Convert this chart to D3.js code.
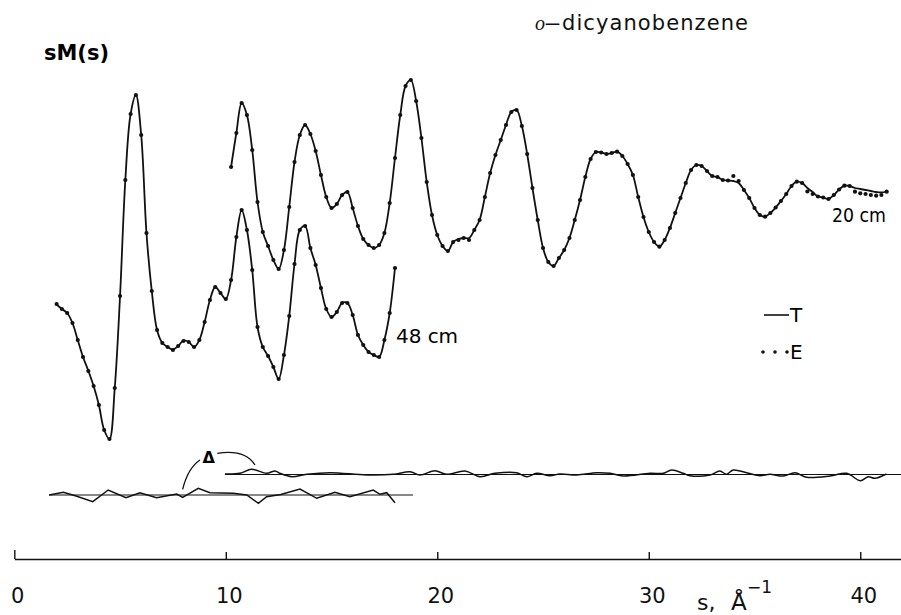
<!DOCTYPE html>
<html><head><meta charset="utf-8">
<script src="https://cdn.jsdelivr.net/npm/d3@7"></script>
<style>body{margin:0;background:#fff}svg{display:block}</style>
</head><body>
<svg id="chart" width="901" height="615"></svg>
<script>
// ---------- data (s in 1/Å, sM(s) in arbitrary vertical units) ----------
const s48 = [2,2.25,2.5,2.75, 3,3.25,3.5,3.75, 4,4.25,4.5,4.75, 5,5.25,5.5,5.75, 6,6.25,6.5,6.75,
  7,7.25,7.5,7.75, 8,8.25,8.5,8.75, 9,9.25,9.5,9.75, 10,10.25,10.5,10.75, 11,11.25,11.5,11.75,
  12,12.25,12.5,12.75, 13,13.25,13.5,13.75, 14,14.25,14.5,14.75, 15,15.25,15.5,15.75,
  16,16.25,16.5,16.75, 17,17.25,17.5,17.75, 18];
const T48 = [29.55,29.1,28.7,27.7, 26.0,24.3,22.93,21.4, 19.5,17.0,16.1,21.2, 30.4,42.0,48.6,50.5,
  46.5,36.7,30.9,27.0, 25.7,25.3,25.05,25.4, 25.95,25.8,25.3,26.0, 27.8,30.0,31.3,30.7,
  30.1,32.0,36.3,39.0, 37.0,33.0,27.3,25.3, 24.4,23.3,22.1,24.5, 28.4,33.6,37.0,37.4,
  35.2,33.5,31.2,29.1, 28.3,28.8,29.7,29.7, 28.5,26.5,25.5,24.8, 24.5,24.3,26.0,28.7, 33.2];
const E48 = [29.6,29.1,28.7,27.7, 26.0,24.3,22.9,21.4, 19.5,17.0,16.1,21.2, 30.4,42.0,48.6,50.5,
  46.5,36.7,30.9,27.0, 25.7,25.3,25.0,25.4, 25.9,25.8,25.3,26.0, 27.8,30.0,31.3,30.7,
  30.1,32.0,36.3,39.0, 37.0,33.0,27.3,25.3, 24.4,23.3,22.1,24.5, 28.4,33.6,37.0,37.4,
  35.2,33.5,31.2,29.1, 28.3,28.8,29.7,29.7, 28.5,26.5,25.5,24.8, 24.5,24.3,26.0,28.7, 33.2];

const s20 = [10.25,10.5,10.75, 11,11.25,11.5,11.75, 12,12.25,12.5,12.75, 13,13.25,13.5,13.75,
  14,14.25,14.5,14.75, 15,15.25,15.5,15.75, 16,16.25,16.5,16.75, 17,17.25,17.5,17.75,
  18,18.25,18.5,18.75, 19,19.25,19.5,19.75, 20,20.25,20.5,20.75, 21,21.25,21.5,21.75,
  22,22.25,22.5,22.75, 23,23.25,23.5,23.75, 24,24.25,24.5,24.75, 25,25.25,25.5,25.75,
  26,26.25,26.5,26.75, 27,27.25,27.5,27.75, 28,28.25,28.5,28.75, 29,29.25,29.5,29.75,
  30,30.25,30.5,30.75, 31,31.25,31.5,31.75, 32,32.25,32.5,32.75, 33,33.25,33.5,33.75,
  34,34.25,34.5,34.75, 35,35.25,35.5,35.75, 36,36.25,36.5,36.75, 37,37.25,37.5,37.75,
  38,38.25,38.5,38.75, 39,39.25,39.5,39.75, 40,40.25,40.5,40.75, 41,41.25];
const T20 = [43.3,46.7,49.7, 48.5,45.0,39.8,36.8, 35.4,34.0,33.1,35.0, 39.3,43.8,46.5,47.5,
  46.6,44.9,42.5,40.3, 39.2,39.6,40.5,40.8, 39.2,37.4,36.1,35.5, 35.2,35.5,36.7,39.7,
  44.2,48.5,51.4,52.0, 49.9,46.2,41.8,38.5, 36.5,35.4,34.9,35.8, 36.1,36.2,36.2,37.0,
  38.0,40.3,42.7,44.5, 46.0,47.5,48.8,49.0, 47.4,44.6,41.2,38.0, 35.2,33.8,33.4,34.2,
  35.0,36.2,38.0,40.0, 42.3,44.1,44.8,44.75, 44.6,44.7,44.83,44.4, 43.6,42.5,40.3,38.3,
  36.8,35.8,35.33,36.0, 37.2,38.7,40.2,41.7, 43.0,43.5,43.4,42.9, 42.4,42.3,42.0,41.95,
  41.9,41.7,41.0,40.2, 39.2,38.5,38.33,38.7, 39.25,39.9,40.6,41.4, 41.83,41.7,41.2,40.8,
  40.35,40.25,40.1,40.5, 41.05,41.43,41.4,41.2, 41.1,41.0,40.9,40.8, 40.75,40.85];
const E20 = [43.3,46.7,49.7, 48.5,45.0,39.8,36.8, 35.4,34.0,33.1,35.0, 39.3,43.8,46.5,47.5,
  46.6,44.9,42.5,40.3, 39.2,39.6,40.5,40.8, 39.2,37.4,36.1,35.5, 35.2,35.5,36.7,39.7,
  44.2,48.5,51.4,52.0, 49.9,46.2,41.8,38.5, 36.5,35.4,34.9,35.8, 36.0,36.2,36.0,37.0,
  38.0,40.3,42.7,44.5, 46.0,47.5,48.8,49.0, 47.4,44.6,41.2,38.0, 35.2,33.8,33.4,34.2,
  35.0,36.2,38.0,40.0, 42.3,44.1,44.8,44.75, 44.6,44.7,44.83,44.4, 43.6,42.5,40.3,38.3,
  36.8,35.8,35.33,36.0, 37.2,38.7,40.2,41.7, 43.0,43.5,43.4,42.9, 42.4,42.3,42.0,41.95,
  42.4,41.9,41.0,40.2, 39.2,38.5,38.33,38.7, 39.25,39.9,40.6,41.4, 41.83,41.7,40.85,40.6,
  40.35,40.25,40.1,40.5, 41.05,41.43,41.4,40.83, 40.67,40.6,40.5,40.43, 40.5,40.83];

// residuals Δ = E - T (same vertical units), drawn about their own baselines
const resLowS = [1.65,2.32,2.92,3.71,4.44,5.28,5.94,6.73,7.68,7.96,8.70,9.25,10.35,10.99,11.54,11.93,12.6,13.51,14.30,15.16,15.87,16.97,17.29,17.61,18.0];
const resLowV = [0,0.27,-0.1,-0.67,0.5,-0.27,0.23,-0.27,0.1,-0.23,0.67,0.23,0.17,0,-0.83,-0.17,0.05,0.6,-0.33,0.27,-0.17,0.5,0.07,0.23,-0.77];
const resUpS = [9.96,10.67,11.22,11.93,12.33,12.56,13.12,13.83,14.93,16.66,17.92,18.71,19.18,19.89,20.44,21.31,22.02,22.73,23.75,24.23,24.7,25.33,25.8,26.59,27.54,28.17,28.79,30.06,30.69,31.08,31.63,31.95,32.89,33.36,33.68,33.99,34.63,35.26,35.73,36.36,36.91,37.46,38.57,39.36,40.0,40.38,40.69,41.24];
const resUpV = [0.05,0.12,0.52,0.12,0.35,0.12,-0.22,0.02,0.18,-0.05,0.02,0.28,-0.05,0.38,0.02,0.35,-0.22,0.12,0.18,-0.22,0.12,-0.12,0.05,-0.05,0.18,0.12,-0.15,0.12,0.12,0.45,0.12,-0.12,-0.05,0.35,0.02,0.45,0.18,-0.12,0.02,-0.15,0.18,-0.28,-0.15,0.12,-0.62,-0.22,-0.38,0.05];
const baseLow = 10.5, baseUp = 12.55;
const baseLowRange = [1.64, 18.85], baseUpRange = [9.96, 41.95];

const xTicks = [0, 10, 20, 30, 40];
const axisLevel = 4.1;

// ---------- scales ----------
const svg = d3.select("#chart");
const x = d3.scaleLinear().domain([0, 41.95]).range([14.3, 901.5]);
const y = d3.scaleLinear().domain([0, 60]).range([600, 0]);
const FONT = "'DejaVu Sans', sans-serif";

const line = d3.line().x(d => x(d[0])).y(d => y(d[1])).curve(d3.curveCatmullRom.alpha(0.5));
const lineLin = d3.line().x(d => x(d[0])).y(d => y(d[1]));

function drawCurve(sArr, tArr, eArr) {
  svg.append("path").datum(sArr.map((s, i) => [s, tArr[i]]))
    .attr("d", line).attr("fill", "none").attr("stroke", "#111").attr("stroke-width", 1.8);
  svg.append("g").selectAll("circle").data(sArr.map((s, i) => [s, eArr[i]])).join("circle")
    .attr("cx", d => x(d[0])).attr("cy", d => y(d[1])).attr("r", 2.1).attr("fill", "#111");
}
drawCurve(s48, T48, E48);
drawCurve(s20, T20, E20);

// residuals
svg.append("line").attr("x1", x(baseLowRange[0])).attr("x2", x(baseLowRange[1]))
  .attr("y1", y(baseLow)).attr("y2", y(baseLow)).attr("stroke", "#111").attr("stroke-width", 1.2);
svg.append("line").attr("x1", x(baseUpRange[0])).attr("x2", x(baseUpRange[1]))
  .attr("y1", y(baseUp)).attr("y2", y(baseUp)).attr("stroke", "#111").attr("stroke-width", 1.2);
svg.append("path").datum(resLowS.map((s, i) => [s, baseLow + resLowV[i]]))
  .attr("d", lineLin).attr("fill", "none").attr("stroke", "#111").attr("stroke-width", 1.5);
svg.append("path").datum(resUpS.map((s, i) => [s, baseUp + resUpV[i]]))
  .attr("d", line).attr("fill", "none").attr("stroke", "#111").attr("stroke-width", 1.5);

// Δ annotation
svg.append("text").attr("x", x(8.9)).attr("y", y(13.68)).text("Δ")
  .attr("font-family", FONT).attr("font-weight", "bold").attr("font-size", 16);
svg.append("path").attr("d", `M${x(8.78)},${y(14.0)} Q${x(8.21)},${y(13.2)} ${x(7.96)},${y(11.07)}`)
  .attr("fill", "none").attr("stroke", "#111").attr("stroke-width", 1.3);
svg.append("path").attr("d", `M${x(9.6)},${y(14.67)} Q${x(10.91)},${y(15.1)} ${x(11.38)},${y(13.5)}`)
  .attr("fill", "none").attr("stroke", "#111").attr("stroke-width", 1.3);

// axis
const axis = d3.axisBottom(x).tickValues(xTicks).tickFormat(d3.format("d"))
  .tickSizeInner(-7).tickSizeOuter(0).tickPadding(29);
const gAx = svg.append("g").attr("transform", `translate(0,${y(axisLevel)})`).call(axis);
gAx.select(".domain").attr("stroke", "#111").attr("stroke-width", 1.6);
gAx.selectAll(".tick line").attr("stroke", "#111").attr("stroke-width", 1.4);
gAx.selectAll(".tick").filter(d => d === 0).select("line").attr("y2", -9);
gAx.selectAll(".tick text").attr("font-family", FONT).attr("font-size", 21).attr("fill", "#111").attr("dx", 3);

// axis title  s, Å^-1
const at = svg.append("text").attr("font-family", FONT).attr("fill", "#111");
at.append("tspan").attr("x", 697).attr("y", 610).attr("font-size", 22).text("s,");
at.append("tspan").attr("x", 731).attr("y", 610).attr("font-size", 23).text("Å");
at.append("tspan").attr("x", 747).attr("y", 593).attr("font-size", 17).text("−1");

// titles
svg.append("text").attr("x", 44).attr("y", 60).attr("font-family", FONT).attr("font-weight", "bold")
  .attr("font-size", 21).attr("textLength", 65).attr("lengthAdjust", "spacingAndGlyphs").text("sM(s)");
const tt = svg.append("text").attr("y", 30).attr("fill", "#111");
tt.append("tspan").attr("x", 535).attr("font-family", "'Liberation Serif', serif").attr("font-style", "italic").attr("font-size", 20).text("o");
tt.append("tspan").attr("x", 544).attr("font-family", FONT).attr("font-size", 21)
  .attr("textLength", 17).attr("lengthAdjust", "spacingAndGlyphs").text("–");
tt.append("tspan").attr("x", 562).attr("font-family", FONT).attr("font-size", 21)
  .attr("textLength", 186).attr("lengthAdjust", "spacing").text("dicyanobenzene");

// curve labels
svg.append("text").attr("x", x(38.66)).attr("y", y(37.8)).attr("font-family", FONT).attr("font-size", 20)
  .attr("textLength", 54).attr("lengthAdjust", "spacingAndGlyphs").text("20 cm");
svg.append("text").attr("x", x(18.05)).attr("y", y(25.7)).attr("font-family", FONT).attr("font-size", 20)
  .attr("textLength", 62).attr("lengthAdjust", "spacing").text("48 cm");

// legend
const lg = svg.append("g").attr("transform", "translate(763,315)");
lg.append("line").attr("x1", 1).attr("x2", 26).attr("y1", 0).attr("y2", 0).attr("stroke", "#111").attr("stroke-width", 1.6);
lg.append("text").attr("x", 27).attr("y", 7).attr("font-family", FONT).attr("font-size", 20).text("T");
lg.selectAll("circle").data([0, 1, 2]).join("circle").attr("cx", d => d * 12).attr("cy", 37).attr("r", 1.8).attr("fill", "#111");
lg.append("text").attr("x", 27).attr("y", 44).attr("font-family", FONT).attr("font-size", 20).text("E");
</script>
</body></html>
